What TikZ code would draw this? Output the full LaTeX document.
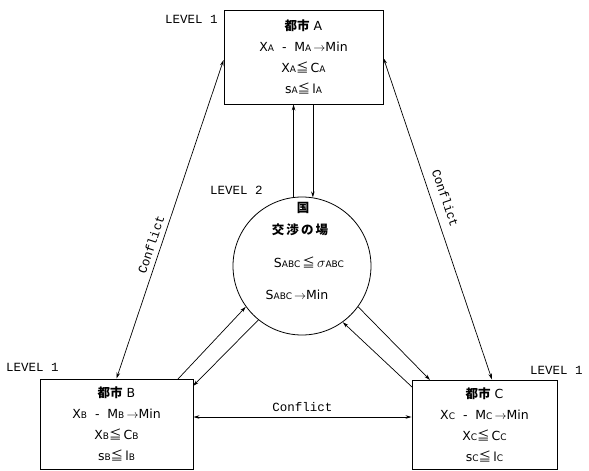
\documentclass[tikz,border=0pt]{standalone}
\usepackage{fontspec}
\setmainfont{DejaVu Sans}
\newfontfamily\jp{Noto Sans CJK JP}
\newfontfamily\mono{Liberation Mono}
\usetikzlibrary{arrows.meta,calc}
\newcommand{\sbx}[1]{{\fontsize{9}{9}\selectfont #1}}
\newcommand{\myleq}{{\jp ≦}}
\newcommand{\cjk}[1]{{\jp\bfseries #1}}
\begin{document}
\begin{tikzpicture}[x=1pt,y=-1pt,
  box/.style={draw,line width=0.9pt,inner sep=0pt,align=center,
    font=\fontsize{12.5}{21}\selectfont},
  lvl/.style={font=\mono\fontsize{12.5}{13}\selectfont,inner sep=0pt},
  ctext/.style={font=\fontsize{12.5}{13}\selectfont,inner sep=0pt},
  arr/.style={line width=0.7pt,-{Stealth[length=6pt,width=3.5pt]}},
  darr/.style={line width=0.7pt,{Stealth[length=6pt,width=3.5pt]}-{Stealth[length=6pt,width=3.5pt]}},
  conf/.style={font=\mono\fontsize{12.5}{13}\selectfont,inner sep=0pt}]
\useasboundingbox (0,0) rectangle (589,471);

% boxes
\node[box,minimum width=159pt,minimum height=94pt] (A) at (303.5,57)
  {\cjk{都市} A\\ X\sbx{A} \ - \ M\sbx{A}\,$\rightarrow$Min\\ X\sbx{A}\myleq\,C\sbx{A}\\ s\sbx{A}\myleq\,l\sbx{A}};
\node[box,minimum width=153pt,minimum height=90pt] (B) at (116.5,424)
  {\cjk{都市} B\\ X\sbx{B} \ - \ M\sbx{B}\,$\rightarrow$Min\\ X\sbx{B}\myleq\,C\sbx{B}\\ s\sbx{B}\myleq\,l\sbx{B}};
\node[box,minimum width=145pt,minimum height=89pt] (C) at (484.5,424.5)
  {\cjk{都市} C\\ X\sbx{C} \ - \ M\sbx{C}\,$\rightarrow$Min\\ X\sbx{C}\myleq\,C\sbx{C}\\ s\sbx{C}\myleq\,l\sbx{C}};

% circle
\node[draw,circle,line width=0.8pt,minimum size=138pt,inner sep=0pt] (N) at (302,266) {};
\node[ctext] (n1) at (303,208) {\cjk{国}};
\node[ctext] (n2) at (300,230) {\cjk{交\,渉\,の\,場}};
\node[ctext] (n3) at (309,262) {S\sbx{ABC}\,\myleq\,{\fontsize{14}{14}\selectfont$\sigma$}\sbx{ABC}};
\node[ctext] (n4) at (297,295) {S\sbx{ABC}\,$\rightarrow$Min};

% level labels
\node[lvl,anchor=west] (L1a) at (165,19) {LEVEL 1};
\node[lvl,anchor=west] (L2) at (210,190) {LEVEL 2};
\node[lvl,anchor=west] (L1b) at (6,367) {LEVEL 1};
\node[lvl,anchor=west] (L1c) at (530,370) {LEVEL 1};

% A <-> circle
\draw[arr] (N.97.5) -- (N.97.5 |- A.south);
\draw[arr] (N.81 |- A.south) -- (N.81);

% circle <-> B
\coordinate (b1) at (178,379);
\coordinate (b2) at (193,386);
\draw[arr] (b1) -- (N.216.7);
\draw[arr] (N.231.6) -- (b2);

% circle <-> C
\coordinate (c1) at (430,380);
\coordinate (c2) at (412,387);
\draw[arr] (N.324) -- (c1);
\draw[arr] (c2) -- (N.306.5);

% conflicts
\draw[darr] (B.north) -- node[conf,sloped,above=5pt,pos=0.41] (cf1) {Conflict} (A.west |- 0,60);
\draw[darr] (A.east |- 0,58) -- node[conf,sloped,above=9pt,pos=0.45] (cf2) {Conflict} (C.north -| 492,0);
\draw[darr] (B.east |- 0,417) -- node[conf,above=5pt] (cf3) {Conflict} (C.west |- 0,417);
\end{tikzpicture}
\end{document}
